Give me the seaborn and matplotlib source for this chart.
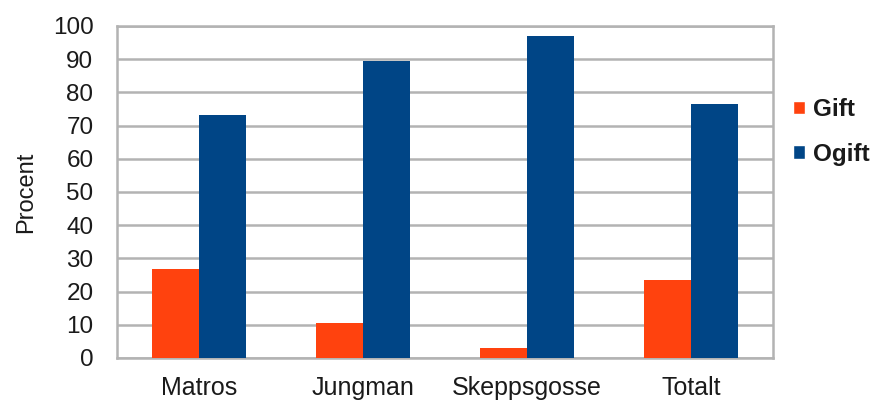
import matplotlib
matplotlib.use("Agg")
import matplotlib.pyplot as plt
import seaborn as sns
import pandas as pd
from matplotlib.patches import Patch

categories = ["Matros", "Jungman", "Skeppsgosse", "Totalt"]
gift = [26.8, 10.5, 2.9, 23.5]
ogift = [73.2, 89.5, 97.1, 76.5]
series_names = ["Gift", "Ogift"]
colors = ["#FF420E", "#004586"]
yticks = list(range(0, 101, 10))

df = pd.DataFrame({
    "Kategori": categories * 2,
    "Procent": gift + ogift,
    "Status": [series_names[0]] * len(categories) + [series_names[1]] * len(categories),
})

sns.set_theme(style="white")
plt.rcParams["font.family"] = ["Liberation Sans", "DejaVu Sans"]

fig = plt.figure(figsize=(8.77, 4.03), dpi=100)
ax = fig.add_axes([117 / 877, 1 - 358 / 403, 656 / 877, 332 / 403])

sns.barplot(data=df, x="Kategori", y="Procent", hue="Status",
            palette=colors, width=0.57, saturation=1, ax=ax,
            legend=False, zorder=3, linewidth=0)

ax.set_ylim(0, 100)
ax.set_xlim(-0.5, len(categories) - 0.5)
ax.set_yticks(yticks)
ax.set_yticklabels([str(t) for t in yticks], fontsize=17.5, color="#1a1a1a")
ax.tick_params(axis="x", labelsize=18, length=0, pad=13, labelcolor="#1a1a1a")
ax.tick_params(axis="y", length=0, pad=17)
ax.set_xlabel("")
ax.set_ylabel("Procent", fontsize=17, labelpad=11, color="#1a1a1a")
ax.yaxis.grid(True, color="#b3b3b3", linewidth=1.8, zorder=0)
ax.set_axisbelow(True)
for s in ax.spines.values():
    s.set_color("#b3b3b3")
    s.set_linewidth(1.8)

handles = [Patch(facecolor=c, label=n) for c, n in zip(colors, series_names)]
leg = fig.legend(handles=handles, loc="upper left", bbox_to_anchor=(781 / 877, 1 - 86 / 403),
                 frameon=False, prop={"size": 17.5, "weight": "bold"},
                 handlelength=0.5, handleheight=0.5, handletextpad=0.3,
                 labelspacing=0.9, borderpad=0)
for t in leg.get_texts():
    t.set_color("#1a1a1a")

fig.savefig("out.png", dpi=100)
